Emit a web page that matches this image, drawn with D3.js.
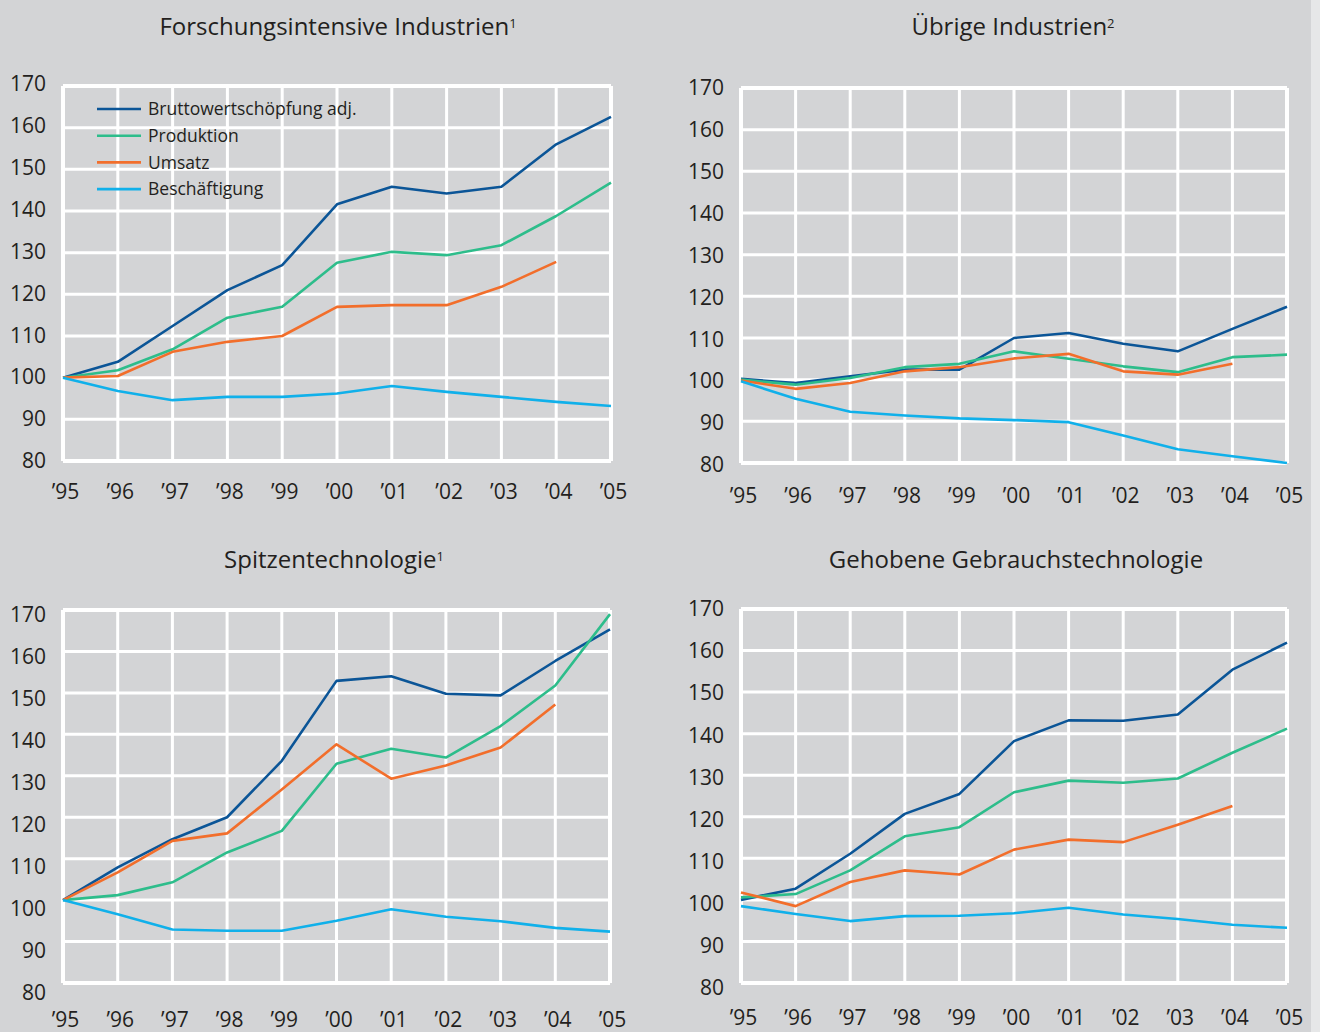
<!DOCTYPE html>
<html>
<head>
<meta charset="utf-8">
<script src="https://cdn.jsdelivr.net/npm/d3@7"></script>
<style>
  body { margin: 0; background: #d3d4d6; }
  text { font-family: "Open Sans", sans-serif; fill: #231f20; }
</style>
</head>
<body>
<script>
// data (Index 1995 = 100)
const years = [1995, 1996, 1997, 1998, 1999, 2000, 2001, 2002, 2003, 2004, 2005];
const yearLabels = ['’95', '’96', '’97', '’98', '’99', '’00', '’01', '’02', '’03', '’04', '’05'];
const yTicks = [80, 90, 100, 110, 120, 130, 140, 150, 160, 170];
const seriesNames = ['Bruttowertschöpfung adj.', 'Produktion', 'Umsatz', 'Beschäftigung'];

const forschBws = [100, 103.8, 112.4, 121.0, 127.0, 141.6, 145.8, 144.2, 145.8, 156.0, 162.6];
const forschProd = [100, 101.8, 106.8, 114.4, 117.0, 127.6, 130.2, 129.4, 131.8, 138.8, 146.8];
const forschUmsatz = [100, 100.4, 106.2, 108.6, 110.0, 117.0, 117.4, 117.4, 121.8, 127.8];
const forschBesch = [100, 96.8, 94.6, 95.4, 95.4, 96.2, 98.0, 96.6, 95.4, 94.2, 93.2];

const uebrigBws = [100.2, 99.2, 100.8, 102.4, 102.4, 110.0, 111.2, 108.6, 106.8, 112.2, 117.5];
const uebrigProd = [100, 98.8, 100.4, 103.0, 103.8, 106.8, 105.0, 103.2, 101.8, 105.4, 106.0];
const uebrigUmsatz = [99.8, 97.8, 99.2, 102.0, 103.0, 105.1, 106.2, 102.0, 101.2, 103.8];
const uebrigBesch = [99.6, 95.4, 92.3, 91.4, 90.7, 90.3, 89.8, 86.6, 83.3, 81.6, 80.0];

const spitzeBws = [100, 107.9, 114.7, 120.0, 133.6, 152.9, 154.0, 149.8, 149.4, 157.7, 165.3];
const spitzeProd = [100, 101.2, 104.3, 111.5, 116.7, 132.9, 136.5, 134.4, 142.0, 151.8, 169.0];
const spitzeUmsatz = [100, 106.7, 114.3, 116.1, 126.7, 137.6, 129.3, 132.5, 136.8, 147.2];
const spitzeBesch = [100, 96.6, 92.9, 92.6, 92.6, 95.0, 97.8, 96.0, 94.9, 93.3, 92.4];

const gehobenBws = [100, 102.7, 111.1, 120.7, 125.5, 138.2, 143.2, 143.1, 144.6, 155.4, 161.9];
const gehobenProd = [100.6, 101.4, 107.1, 115.3, 117.5, 125.9, 128.7, 128.2, 129.2, 135.4, 141.2];
const gehobenUmsatz = [101.8, 98.5, 104.3, 107.1, 106.1, 112.1, 114.5, 113.9, 118.1, 122.6];
const gehobenBesch = [98.5, 96.6, 94.9, 96.1, 96.2, 96.8, 98.1, 96.5, 95.4, 94.0, 93.3];

(function() {
	const colors = ['#0b5597', '#2dbd8b', '#f26e2b', '#10b0ea'];

	const panels = [
		{ title: 'Forschungsintensive Industrien', sup: '1', series: [forschBws, forschProd, forschUmsatz, forschBesch],
		  left: 63, right: 611, top: 86, bottom: 461, labTop: 84, labBottom: 461, xLabY: 491, titleX: 338, titleY: 27, legend: true },
		{ title: 'Übrige Industrien', sup: '2', series: [uebrigBws, uebrigProd, uebrigUmsatz, uebrigBesch],
		  left: 741, right: 1287, top: 88, bottom: 463, labTop: 88, labBottom: 465, xLabY: 495, titleX: 1013, titleY: 27 },
		{ title: 'Spitzentechnologie', sup: '1', series: [spitzeBws, spitzeProd, spitzeUmsatz, spitzeBesch],
		  left: 63, right: 610, top: 610, bottom: 983, labTop: 615, labBottom: 993, xLabY: 1019, titleX: 334, titleY: 560 },
		{ title: 'Gehobene Gebrauchstechnologie', sup: '', series: [gehobenBws, gehobenProd, gehobenUmsatz, gehobenBesch],
		  left: 741, right: 1287, top: 609, bottom: 983, labTop: 609, labBottom: 988, xLabY: 1017, titleX: 1016, titleY: 560 }
	];

	const svg = d3.select('body').append('svg')
		.attr('width', 1320)
		.attr('height', 1032);

	svg.append('rect')
		.attr('width', 1320)
		.attr('height', 1032)
		.attr('fill', '#d3d4d6');

	// light strip at the right edge
	svg.append('rect')
		.attr('x', 1311)
		.attr('width', 9)
		.attr('height', 1032)
		.attr('fill', '#e6e7e8');

	panels.forEach(p => {
		const g = svg.append('g');

		const x = d3.scaleLinear().domain([1995, 2005]).range([p.left, p.right]);
		const y = d3.scaleLinear().domain([80, 170]).range([p.bottom, p.top]);
		// tick labels sit slightly off the gridlines in the original
		const yLab = d3.scaleLinear().domain([80, 170]).range([p.labBottom, p.labTop]);

		// title
		const title = g.append('text')
			.attr('x', p.titleX)
			.attr('y', p.titleY)
			.attr('dy', '0.35em')
			.attr('text-anchor', 'middle')
			.style('font-size', '24px');
		title.append('tspan').text(p.title);
		if (p.sup) {
			title.append('tspan')
				.attr('dy', '-0.6em')
				.style('font-size', '13px')
				.text(p.sup);
		}

		// grid
		g.append('g').selectAll('line.h')
			.data(yTicks)
			.join('line')
			.attr('x1', p.left).attr('x2', p.right)
			.attr('y1', d => y(d)).attr('y2', d => y(d))
			.attr('stroke', '#fff')
			.attr('stroke-width', d => (d === 80 || d === 170) ? 4 : 3);

		g.append('g').selectAll('line.v')
			.data(years)
			.join('line')
			.attr('x1', d => x(d)).attr('x2', d => x(d))
			.attr('y1', p.top).attr('y2', p.bottom)
			.attr('stroke', '#fff')
			.attr('stroke-width', d => (d === 1995 || d === 2005) ? 4 : 3);

		// axes
		const yAxis = g.append('g')
			.attr('transform', `translate(${p.left - 17}, 0)`)
			.call(d3.axisLeft(yLab).tickValues(yTicks).tickSize(0).tickPadding(0));
		yAxis.select('.domain').remove();
		yAxis.selectAll('text')
			.style('font-size', '21px')
			.style('font-family', '"Open Sans", sans-serif')
			.attr('fill', '#231f20');

		const xAxis = g.append('g')
			.attr('transform', `translate(2, ${p.xLabY - 7})`)
			.call(d3.axisBottom(x).tickValues(years)
				.tickFormat((d, i) => yearLabels[i])
				.tickSize(0).tickPadding(0));
		xAxis.select('.domain').remove();
		xAxis.selectAll('text')
			.style('font-size', '21px')
			.style('font-family', '"Open Sans", sans-serif')
			.attr('fill', '#231f20');

		// lines
		const line = d3.line()
			.x((d, i) => x(years[i]))
			.y(d => y(d));

		p.series.forEach((s, k) => {
			g.append('path')
				.attr('d', line(s))
				.attr('fill', 'none')
				.attr('stroke', colors[k])
				.attr('stroke-width', 2.6)
				.attr('stroke-linejoin', 'round');
		});

		// legend
		if (p.legend) {
			const legend = g.append('g')
				.attr('transform', 'translate(97, 109)');
			const item = legend.selectAll('g')
				.data(seriesNames)
				.join('g')
				.attr('transform', (d, i) => `translate(0, ${i * 26.7})`);
			item.append('line')
				.attr('x2', 44)
				.attr('stroke', (d, i) => colors[i])
				.attr('stroke-width', 2.6);
			item.append('text')
				.attr('x', 51)
				.attr('dy', '0.35em')
				.style('font-size', '17.5px')
				.text(d => d);
		}
	});
})();
</script>
</body>
</html>
